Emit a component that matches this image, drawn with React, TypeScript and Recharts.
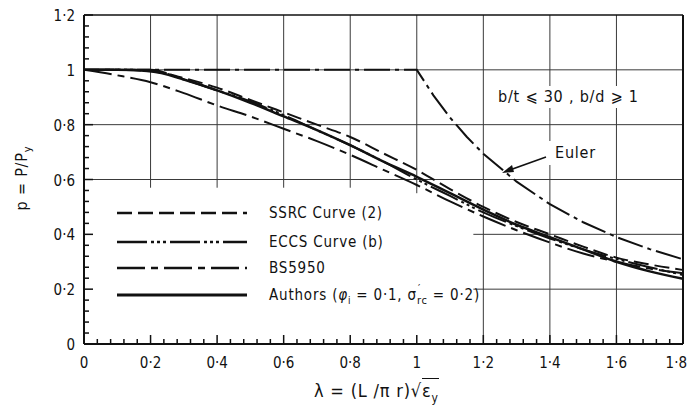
import React from "react";
import { LineChart, Line, XAxis, YAxis, ReferenceLine } from "recharts";

// slenderness values
const lambda = [0, 0.1, 0.2, 0.3, 0.4, 0.5, 0.6, 0.7, 0.8, 0.9, 1.0, 1.1, 1.2, 1.3, 1.4, 1.5, 1.6, 1.7, 1.8];
const ssrc = [1, 1, 0.995, 0.97, 0.935, 0.89, 0.845, 0.8, 0.755, 0.695, 0.635, 0.565, 0.5, 0.445, 0.4, 0.355, 0.315, 0.29, 0.27];
const eccs = [1, 1, 1, 0.965, 0.925, 0.885, 0.835, 0.78, 0.725, 0.665, 0.6, 0.54, 0.48, 0.43, 0.385, 0.345, 0.31, 0.28, 0.252];
const bs5950 = [1, 0.98, 0.955, 0.915, 0.87, 0.83, 0.785, 0.74, 0.69, 0.635, 0.58, 0.52, 0.465, 0.415, 0.37, 0.33, 0.3, 0.275, 0.258];
const authors = [1, 1, 0.995, 0.965, 0.925, 0.88, 0.83, 0.78, 0.725, 0.665, 0.61, 0.55, 0.49, 0.435, 0.39, 0.345, 0.3, 0.265, 0.238];

const eulerLambda = [0, 1.0, 1.05, 1.1, 1.15, 1.2, 1.3, 1.4, 1.5, 1.6, 1.7, 1.8];
const eulerP = [1, 1, 0.907, 0.826, 0.756, 0.694, 0.592, 0.51, 0.444, 0.39, 0.346, 0.309];

const seriesNames = ["SSRC Curve (2)", "ECCS Curve (b)", "BS5950", "Authors"];

const xTicks = [0, 0.2, 0.4, 0.6, 0.8, 1.0, 1.2, 1.4, 1.6, 1.8];
const xTickLabels = ["0", "0·2", "0·4", "0·6", "0·8", "1", "1·2", "1·4", "1·6", "1·8"];
const yTicks = [0, 0.2, 0.4, 0.6, 0.8, 1.0, 1.2];
const yTickLabels = ["0", "0·2", "0·4", "0·6", "0·8", "1", "1·2"];

const rows = lambda.map((x, i) => ({ x, ssrc: ssrc[i], eccs: eccs[i], bs: bs5950[i], authors: authors[i] }));
const eulerRows = eulerLambda.map((x, i) => ({ x, euler: eulerP[i] }));

const minorX = Array.from({ length: 46 }, (_, i) => Math.round(i * 4) / 100);
const minorY = Array.from({ length: 31 }, (_, i) => Math.round(i * 4) / 100);

const INK = "#111";
const GRID = "#3a3a3a";
const FONT = "'DejaVu Sans Condensed', 'Liberation Sans Narrow', 'DejaVu Sans', sans-serif";

const styles = [
  { key: "ssrc", dash: "15 6", width: 2 },
  { key: "eccs", dash: "30 4 3 3 3 3 3 4", width: 2 },
  { key: "bs", dash: "28 6 7 6", width: 2 },
  { key: "authors", dash: undefined, width: 2.5 },
];

const majorIndex = (list: number[], v: number) => list.findIndex((t) => Math.abs(t - v) < 1e-6);

const XTick = (props: any) => {
  const { x, y, payload } = props;
  const idx = majorIndex(xTicks, payload.value);
  const last = idx === xTicks.length - 1;
  return (
    <g>
      <line x1={x} y1={y} x2={x} y2={y - (idx >= 0 ? 9 : 5)} stroke={INK} strokeWidth={1.5} />
      {idx >= 0 && (
        <text
          x={last ? x + 4 : x}
          y={y + 24}
          textAnchor={last ? "end" : "middle"}
          fontSize={15}
          fontFamily={FONT}
          fill={INK}
        >
          {xTickLabels[idx]}
        </text>
      )}
    </g>
  );
};

const YTick = (props: any) => {
  const { x, y, payload } = props;
  const idx = majorIndex(yTicks, payload.value);
  return (
    <g>
      <line x1={x} y1={y} x2={x + (idx >= 0 ? 9 : 5)} y2={y} stroke={INK} strokeWidth={1.5} />
      {idx >= 0 && (
        <text x={x - 9} y={y + 6} textAnchor="end" fontSize={15} fontFamily={FONT} fill={INK}>
          {yTickLabels[idx]}
        </text>
      )}
    </g>
  );
};

const textStyle: React.CSSProperties = {
  position: "absolute",
  fontFamily: FONT,
  fontSize: 15,
  letterSpacing: 0.8,
  color: INK,
  whiteSpace: "nowrap",
  lineHeight: "18px",
};

export default function App() {
  return (
    <div style={{ position: "absolute", left: 0, top: 0, width: 689, height: 414, background: "#fff", overflow: "hidden" }}>
      <LineChart width={689} height={414} data={rows} margin={{ top: 15, right: 6, bottom: 0, left: 0 }}>
        <XAxis
          type="number"
          dataKey="x"
          domain={[0, 1.8]}
          ticks={minorX}
          interval={0}
          tick={(p: any) => <XTick {...p} />}
          tickLine={false}
          tickSize={0}
          tickMargin={0}
          height={70}
          axisLine={{ stroke: INK, strokeWidth: 2 }}
        />
        <YAxis
          type="number"
          domain={[0, 1.2]}
          ticks={minorY}
          interval={0}
          tick={(p: any) => <YTick {...p} />}
          tickLine={false}
          tickSize={0}
          tickMargin={0}
          width={84}
          axisLine={{ stroke: INK, strokeWidth: 2 }}
        />

        {/* grid, broken where the legend sits */}
        {[0.2, 0.4, 0.6, 0.8].map((v) => (
          <ReferenceLine key={"v" + v} segment={[{ x: v, y: 0.57 }, { x: v, y: 1.2 }]} stroke={GRID} strokeWidth={1} />
        ))}
        <ReferenceLine segment={[{ x: 1.0, y: 0.55 }, { x: 1.0, y: 1.2 }]} stroke={GRID} strokeWidth={1} />
        {[1.2, 1.4, 1.6].map((v) => (
          <ReferenceLine key={"v" + v} segment={[{ x: v, y: 0 }, { x: v, y: 1.2 }]} stroke={GRID} strokeWidth={1} />
        ))}
        {[0.6, 0.8, 1.0].map((v) => (
          <ReferenceLine key={"h" + v} segment={[{ x: 0, y: v }, { x: 1.8, y: v }]} stroke={GRID} strokeWidth={1} />
        ))}
        {[0.2, 0.4].map((v) => (
          <ReferenceLine key={"h" + v} segment={[{ x: 1.17, y: v }, { x: 1.8, y: v }]} stroke={GRID} strokeWidth={1} />
        ))}
        <ReferenceLine y={1.2} stroke={INK} strokeWidth={1.5} />
        <ReferenceLine x={1.8} stroke={INK} strokeWidth={2} />

        <Line
          data={eulerRows}
          dataKey="euler"
          type="linear"
          stroke={INK}
          strokeWidth={2}
          strokeDasharray="26 5 4 5"
          dot={false}
          isAnimationActive={false}
        />
        {styles.map((s) => (
          <Line
            key={s.key}
            dataKey={s.key}
            type="monotone"
            stroke={INK}
            strokeWidth={s.width}
            strokeDasharray={s.dash}
            dot={false}
            isAnimationActive={false}
          />
        ))}
      </LineChart>

      {/* legend and arrow */}
      <svg width={689} height={414} style={{ position: "absolute", left: 0, top: 0, pointerEvents: "none" }}>
        {styles.map((s, i) => (
          <line
            key={s.key}
            x1={117}
            x2={247}
            y1={[213, 242, 268, 295][i]}
            y2={[213, 242, 268, 295][i]}
            stroke={INK}
            strokeWidth={s.width + 0.5}
            strokeDasharray={s.dash}
          />
        ))}
        <line x1={546} y1={157} x2={507} y2={171} stroke={INK} strokeWidth={1.5} />
        <polygon points="502,173 512,165 514,172" fill={INK} />
      </svg>

      {seriesNames.slice(0, 3).map((n, i) => (
        <div key={n} style={{ ...textStyle, left: 269, top: [204, 233, 259][i] }}>
          {n}
        </div>
      ))}
      <div style={{ ...textStyle, left: 269, top: 286 }}>
        {seriesNames[3]} (<i>φ</i>
        <sub style={{ fontSize: 10 }}>i</sub> = 0·1, σ
        <span style={{ position: "relative" }}>
          <sup style={{ fontSize: 11, position: "absolute", top: -6, left: 1 }}>′</sup>
          <sub style={{ fontSize: 11 }}>rc</sub>
        </span>{" "}
        = 0·2)
      </div>

      <div style={{ ...textStyle, left: 494, top: 86, background: "#fff", padding: "2px 4px", fontSize: 16 }}>
        b/t ⩽ 30 , b/d ⩾ 1
      </div>
      <div style={{ ...textStyle, left: 547, top: 141, background: "#fff", padding: "3px 4px 3px 8px", fontSize: 16 }}>
        Euler
      </div>

      <div
        style={{
          ...textStyle,
          fontSize: 16,
          left: 25,
          top: 178,
          transform: "translate(-50%, -50%) rotate(-90deg)",
        }}
      >
        p = P/P<sub style={{ fontSize: 11 }}>y</sub>
      </div>

      <div style={{ ...textStyle, fontSize: 18, left: 314, top: 380, lineHeight: "22px" }}>
        λ = (L /π r)√<span style={{ borderTop: "1.5px solid #111", paddingTop: 1 }}>ε<sub style={{ fontSize: 12 }}>y</sub></span>
      </div>
    </div>
  );
}
